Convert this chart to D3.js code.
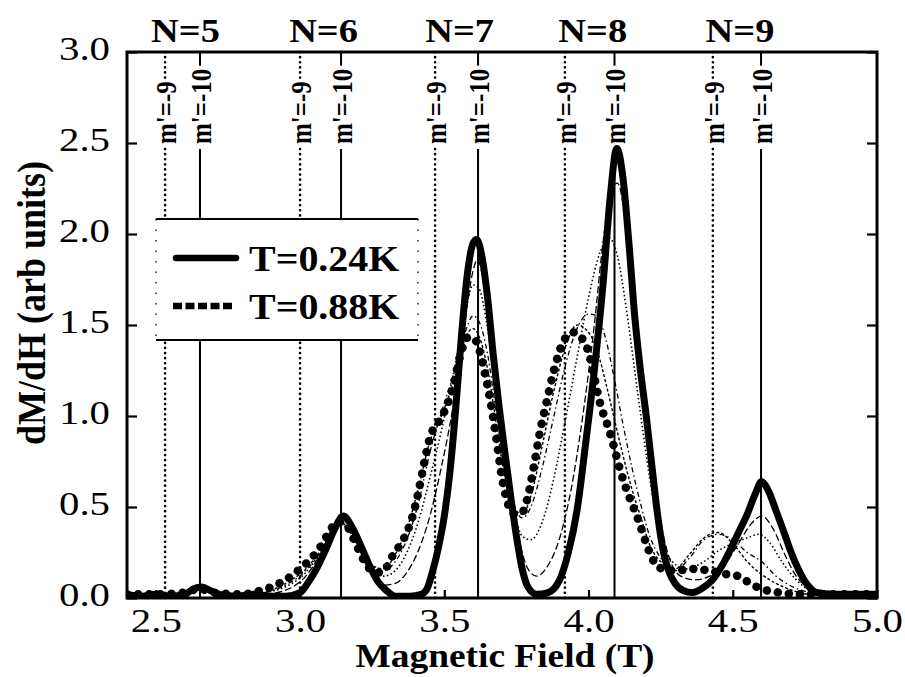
<!DOCTYPE html>
<html>
<head>
<meta charset="utf-8">
<script src="https://cdn.jsdelivr.net/npm/d3@7"></script>
<style>
  body { margin: 0; background: #fff; }
  svg { display: block; }
  text { font-family: "Liberation Serif", "Times New Roman", serif; fill: #000; }
</style>
</head>
<body>
<svg id="chart"></svg>
<script>
// axis ticks
const fieldTicks = [2.5, 3.0, 3.5, 4.0, 4.5, 5.0];
const signalTicks = [0, 0.5, 1.0, 1.5, 2.0, 2.5, 3.0];

// Landau levels and their crossing fields (T)
const levelNames = ["N=5", "N=6", "N=7", "N=8", "N=9"];
const crossM9 = [2.532, 3.0, 3.468, 3.918, 4.431];
const crossM10 = [2.653, 3.142, 3.617, 4.09, 4.598];

// T = 0.24K  [field, dM/dH]
const curve024 = [
  [2.40,0.02],[2.45,0.01],[2.50,0.02],[2.55,0.01],[2.60,0.02],[2.63,0.05],[2.66,0.06],[2.69,0.04],
  [2.72,0.02],[2.78,0.01],[2.84,0.02],[2.90,0.01],[2.95,0.01],[3.00,0.03],[3.03,0.09],[3.06,0.17],
  [3.09,0.27],[3.12,0.38],[3.15,0.45],[3.18,0.39],[3.21,0.29],[3.24,0.18],[3.27,0.09],[3.30,0.04],
  [3.33,0.01],[3.38,0.01],[3.42,0.02],[3.44,0.05],[3.46,0.15],[3.48,0.28],[3.50,0.45],[3.52,0.70],
  [3.54,1.05],[3.56,1.45],[3.58,1.78],[3.60,1.95],[3.612,1.97],[3.63,1.88],[3.65,1.65],[3.67,1.33],
  [3.69,1.05],[3.71,0.80],[3.73,0.56],[3.75,0.34],[3.77,0.16],[3.79,0.06],[3.82,0.02],[3.86,0.03],
  [3.90,0.10],[3.93,0.25],[3.96,0.48],[3.99,0.85],[4.02,1.25],[4.05,1.72],[4.075,2.20],[4.098,2.47],
  [4.12,2.30],[4.14,1.95],[4.16,1.55],[4.18,1.25],[4.20,1.00],[4.22,0.72],[4.24,0.45],[4.26,0.25],
  [4.28,0.14],[4.30,0.08],[4.33,0.04],[4.36,0.03],[4.40,0.06],[4.43,0.10],[4.46,0.17],[4.49,0.26],
  [4.52,0.36],[4.55,0.46],[4.58,0.58],[4.60,0.64],[4.62,0.60],[4.65,0.48],[4.68,0.35],[4.70,0.26],
  [4.73,0.15],[4.76,0.07],[4.79,0.03],[4.85,0.02],[4.92,0.02],[5.00,0.02]
];

// T = 0.88K
const curve088 = [
  [2.40,0.02],[2.50,0.02],[2.60,0.03],[2.65,0.05],[2.70,0.03],[2.80,0.02],[2.86,0.04],[2.90,0.06],
  [2.95,0.10],[3.00,0.16],[3.04,0.22],[3.07,0.28],[3.10,0.36],[3.13,0.42],[3.16,0.40],[3.19,0.31],
  [3.22,0.21],[3.25,0.15],[3.28,0.14],[3.30,0.17],[3.32,0.23],[3.35,0.30],[3.37,0.36],[3.39,0.45],
  [3.41,0.58],[3.43,0.74],[3.45,0.88],[3.485,0.98],[3.51,1.06],[3.53,1.16],[3.555,1.33],[3.58,1.43],
  [3.60,1.43],[3.62,1.37],[3.64,1.24],[3.66,1.08],[3.68,0.88],[3.70,0.66],[3.72,0.52],[3.745,0.46],
  [3.77,0.47],[3.79,0.56],[3.81,0.72],[3.83,0.90],[3.855,1.08],[3.88,1.25],[3.91,1.40],[3.945,1.46],
  [3.98,1.42],[4.00,1.35],[4.015,1.25],[4.04,1.07],[4.07,0.93],[4.09,0.82],[4.11,0.70],[4.14,0.56],
  [4.17,0.44],[4.20,0.30],[4.22,0.22],[4.24,0.17],[4.30,0.15],[4.36,0.16],[4.42,0.15],[4.48,0.13],
  [4.52,0.12],[4.56,0.08],[4.60,0.05],[4.66,0.03],[4.75,0.02],[5.00,0.02]
];

// intermediate temperatures (thin traces)
const curveMidA = [
  [2.88,0.02],[2.96,0.05],[3.02,0.12],[3.07,0.24],[3.11,0.36],[3.14,0.42],[3.17,0.37],[3.21,0.25],
  [3.25,0.13],[3.29,0.07],[3.33,0.08],[3.37,0.14],[3.41,0.26],[3.45,0.45],[3.49,0.72],[3.53,1.05],
  [3.57,1.50],[3.60,1.80],[3.615,1.86],[3.64,1.70],[3.67,1.35],[3.70,0.98],[3.73,0.62],[3.76,0.32],
  [3.79,0.16],[3.82,0.12],[3.86,0.18],[3.90,0.33],[3.94,0.60],[3.98,1.00],[4.02,1.50],[4.05,1.95],
  [4.08,2.25],[4.10,2.28],[4.13,2.05],[4.16,1.60],[4.19,1.15],[4.22,0.75],[4.25,0.42],[4.28,0.22],
  [4.32,0.12],[4.37,0.10],[4.42,0.12],[4.47,0.18],[4.52,0.30],[4.56,0.40],[4.60,0.45],[4.64,0.38],
  [4.68,0.24],[4.72,0.12],[4.77,0.05],[4.84,0.02]
];
const curveMidB = [
  [2.88,0.03],[2.96,0.07],[3.02,0.14],[3.07,0.25],[3.11,0.36],[3.14,0.41],[3.17,0.37],[3.21,0.26],
  [3.25,0.16],[3.29,0.12],[3.33,0.15],[3.37,0.25],[3.41,0.42],[3.45,0.66],[3.49,0.92],[3.53,1.22],
  [3.57,1.55],[3.60,1.72],[3.62,1.70],[3.65,1.48],[3.68,1.12],[3.71,0.78],[3.74,0.50],[3.77,0.34],
  [3.80,0.32],[3.84,0.42],[3.88,0.66],[3.92,0.98],[3.96,1.32],[4.00,1.65],[4.04,1.90],[4.07,1.98],
  [4.10,1.88],[4.13,1.60],[4.16,1.25],[4.19,0.90],[4.22,0.58],[4.25,0.35],[4.29,0.20],[4.34,0.16],
  [4.40,0.20],[4.45,0.26],[4.50,0.30],[4.55,0.33],[4.59,0.35],[4.63,0.30],[4.67,0.20],[4.72,0.10],
  [4.77,0.04],[4.84,0.02]
];
const curveMidC = [
  [2.88,0.03],[2.96,0.08],[3.02,0.15],[3.07,0.25],[3.11,0.35],[3.14,0.40],[3.17,0.37],[3.21,0.27],
  [3.25,0.18],[3.29,0.15],[3.33,0.20],[3.37,0.32],[3.41,0.52],[3.45,0.80],[3.49,1.02],[3.53,1.22],
  [3.57,1.45],[3.60,1.55],[3.62,1.52],[3.65,1.34],[3.68,1.02],[3.71,0.72],[3.74,0.52],[3.77,0.44],
  [3.80,0.50],[3.84,0.72],[3.88,1.00],[3.92,1.28],[3.96,1.48],[4.00,1.56],[4.03,1.55],[4.06,1.42],
  [4.09,1.20],[4.12,0.95],[4.15,0.72],[4.18,0.52],[4.21,0.35],[4.25,0.22],[4.30,0.15],[4.35,0.22],
  [4.40,0.32],[4.45,0.35],[4.50,0.32],[4.55,0.25],[4.60,0.20],[4.65,0.12],[4.71,0.06],[4.77,0.03],
  [4.84,0.02]
];
const curveMidD = [
  [2.88,0.03],[2.96,0.09],[3.02,0.16],[3.07,0.26],[3.11,0.36],[3.14,0.41],[3.17,0.38],[3.21,0.27],
  [3.25,0.18],[3.29,0.16],[3.33,0.24],[3.37,0.38],[3.41,0.60],[3.45,0.86],[3.49,1.00],[3.53,1.18],
  [3.57,1.42],[3.60,1.48],[3.62,1.44],[3.65,1.26],[3.68,0.96],[3.71,0.66],[3.74,0.50],[3.77,0.46],
  [3.80,0.56],[3.84,0.84],[3.88,1.14],[3.92,1.38],[3.96,1.50],[4.00,1.46],[4.03,1.36],[4.06,1.18],
  [4.09,0.98],[4.12,0.78],[4.15,0.60],[4.18,0.45],[4.21,0.30],[4.25,0.20],[4.30,0.16],[4.35,0.24],
  [4.40,0.33],[4.45,0.36],[4.50,0.30],[4.55,0.20],[4.60,0.13],[4.65,0.08],[4.71,0.04],[4.77,0.02],
  [4.84,0.02]
];

const legendLabels = ["T=0.24K", "T=0.88K"];

const W = 905, H = 677;
const svg = d3.select("#chart").attr("width", W).attr("height", H);
const FONT = '"Liberation Serif", "Times New Roman", serif';

const x = d3.scaleLinear().domain([2.4, 5.0]).range([127, 877]);
const y = d3.scaleLinear().domain([0, 3.0]).range([598, 52]);
const [x0, x1] = x.range();
const [yb, yt] = y.range();

// the scanned figure is a bit wider than Times, stretch text sideways
function wideText(px, py, sx, size, bold) {
  const t = svg.append("text")
    .attr("transform", `translate(${px},${py}) scale(${sx},1)`)
    .style("font-size", size + "px");
  if (bold) t.style("font-weight", "bold");
  return t;
}

svg.append("clipPath").attr("id", "plotclip")
  .append("rect").attr("x", x0).attr("y", yt).attr("width", x1 - x0).attr("height", yb - yt);

// vertical crossing lines with rotated m' labels
const labelBottom = yt + 92;
function crossLine(field, label, dotted) {
  const lx = x(field);
  const t = svg.append("text")
    .attr("transform", `translate(${lx},${labelBottom}) rotate(-90) scale(1,1.22)`)
    .attr("dy", "0.36em")
    .style("font-size", "25px").style("font-weight", "bold")
    .text(label);
  const len = t.node().getComputedTextLength();
  const segs = [[yt, labelBottom - len - 3], [labelBottom + 5, yb]];
  segs.forEach(([a, b]) => {
    if (b <= a) return;
    const l = svg.append("line")
      .attr("x1", lx).attr("x2", lx).attr("y1", a).attr("y2", b)
      .attr("stroke", "#000");
    if (dotted) l.attr("stroke-width", 2.6).attr("stroke-dasharray", "0.1,5").attr("stroke-linecap", "round");
    else l.attr("stroke-width", 2);
  });
}
crossM9.forEach(f => crossLine(f, "m'=-9", true));
crossM10.forEach(f => crossLine(f, "m'=-10", false));

// level names above the frame
levelNames.forEach((n, i) => {
  wideText((x(crossM9[i]) + x(crossM10[i])) / 2 + 3, 42, 1.13, 34, true)
    .attr("text-anchor", "middle")
    .text(n);
});

// curves
const line = d3.line().x(d => x(d[0])).y(d => y(d[1])).curve(d3.curveMonotoneX);
const plot = svg.append("g").attr("clip-path", "url(#plotclip)");

const thin = [
  { data: curveMidD, dash: "3,2", w: 1.4 },
  { data: curveMidC, dash: "5,3,1.5,3", w: 1.3 },
  { data: curveMidB, dash: "1.5,2.5", w: 1.6 },
  { data: curveMidA, dash: "7,3", w: 1.3 }
];
thin.forEach(c => {
  plot.append("path").attr("d", line(c.data))
    .attr("fill", "none").attr("stroke", "#000")
    .attr("stroke-width", c.w).attr("stroke-dasharray", c.dash);
});

plot.append("path").attr("d", line(curve088))
  .attr("fill", "none").attr("stroke", "#000")
  .attr("stroke-width", 8.5).attr("stroke-linecap", "round")
  .attr("stroke-dasharray", "0.1,11");

plot.append("path").attr("d", line(curve024))
  .attr("fill", "none").attr("stroke", "#000")
  .attr("stroke-width", 7).attr("stroke-linejoin", "round");

// axes
const axL = svg.append("g").attr("transform", `translate(${x0},0)`)
  .call(d3.axisLeft(y).tickValues(signalTicks).tickSize(-10).tickSizeOuter(0).tickPadding(17).tickFormat(d3.format(".1f")));
const axR = svg.append("g").attr("transform", `translate(${x1},0)`)
  .call(d3.axisRight(y).tickValues(signalTicks).tickSize(-10).tickSizeOuter(0).tickFormat(""));
const axB = svg.append("g").attr("transform", `translate(0,${yb})`)
  .call(d3.axisBottom(x).tickValues(fieldTicks).tickSize(-8).tickSizeOuter(0).tickPadding(10).tickFormat(d3.format(".1f")));
[axL, axR, axB].forEach(g => {
  g.attr("font-family", FONT).attr("font-size", 34);
  g.select(".domain").remove();
  g.selectAll(".tick line").attr("stroke-width", 2.2);
});
axL.selectAll(".tick text").each(function () {
  const t = d3.select(this), tx = +t.attr("x");
  t.attr("x", 0).attr("dy", "0.22em").attr("transform", `translate(${tx},0) scale(1.2,1)`);
});
axB.selectAll(".tick text").attr("transform", "scale(1.2,1)");

// frame
svg.append("rect").attr("x", x0).attr("y", yt).attr("width", x1 - x0).attr("height", yb - yt)
  .attr("fill", "none").attr("stroke", "#000").attr("stroke-width", 3);

// axis titles
wideText((x0 + x1) / 2 + 3, 667, 1.1, 34, true)
  .attr("text-anchor", "middle")
  .text("Magnetic Field (T)");
svg.append("text")
  .attr("transform", `translate(31,303) rotate(-90) scale(1,1.12)`)
  .attr("text-anchor", "middle").attr("dy", "0.35em")
  .style("font-size", "36px").style("font-weight", "bold")
  .text("dM/dH (arb units)");

// legend
const lg = svg.append("g");
lg.append("rect").attr("x", 156).attr("y", 219).attr("width", 262).attr("height", 121)
  .attr("fill", "#fff").attr("stroke", "none");
[219, 340].forEach(yy => lg.append("line").attr("x1", 156).attr("x2", 418).attr("y1", yy).attr("y2", yy)
  .attr("stroke", "#000").attr("stroke-width", 2));
[156, 418].forEach(xx => lg.append("line").attr("x1", xx).attr("x2", xx).attr("y1", 219).attr("y2", 340)
  .attr("stroke", "#000").attr("stroke-width", 1.3).attr("stroke-dasharray", "1.5,9"));
const legendRows = [
  { y: 258, dash: null, cap: "round" },
  { y: 306, dash: "9,3.5", cap: "butt" }
];
legendRows.forEach((r, i) => {
  const l = lg.append("line").attr("x1", r.dash ? 173 : 176).attr("x2", r.dash ? 234 : 236)
    .attr("y1", r.y).attr("y2", r.y)
    .attr("stroke", "#000").attr("stroke-width", 6.5).attr("stroke-linecap", r.cap);
  if (r.dash) l.attr("stroke-dasharray", r.dash);
  svg.append("text")
    .attr("transform", `translate(249,${r.y}) scale(1.11,1)`)
    .attr("dy", "0.35em")
    .style("font-size", "36px").style("font-weight", "bold")
    .text(legendLabels[i]);
});
</script>
</body>
</html>
